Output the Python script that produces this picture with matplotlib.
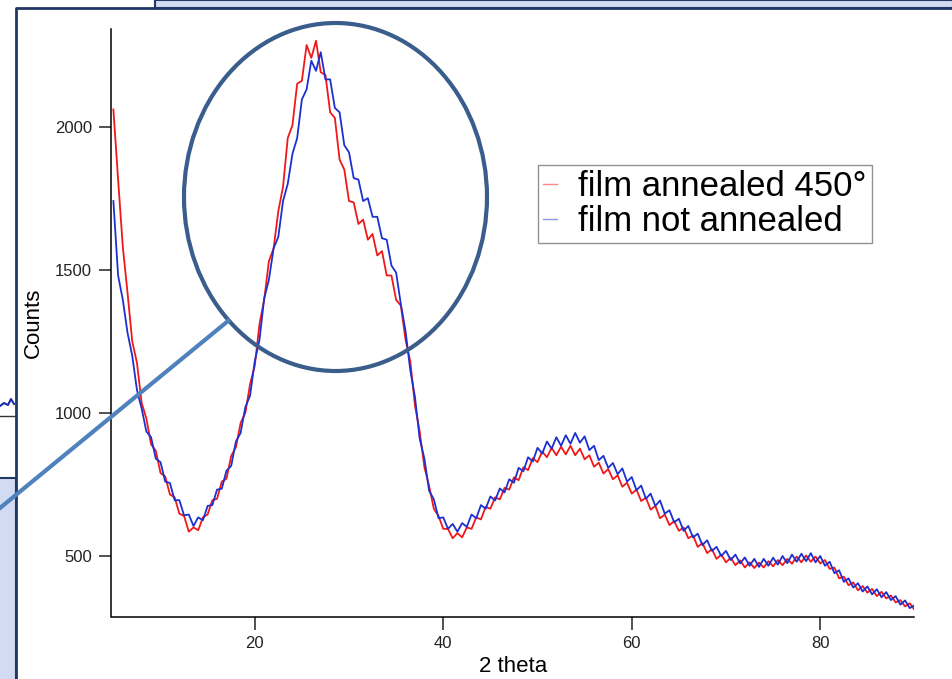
import numpy as np
import matplotlib
matplotlib.use('Agg')
import matplotlib.pyplot as plt
from matplotlib.patches import Rectangle, Ellipse
from matplotlib.lines import Line2D

plt.rcParams['font.family'] = ['Liberation Sans', 'DejaVu Sans']

# 2 theta from 5 to 90, step 0.5
two_theta = np.arange(171) * 0.5 + 5.0

annealed = [
    2060, 1815, 1580, 1420, 1250, 1175, 1035, 980, 890, 868,
    790, 778, 715, 705, 648, 640, 585, 600, 590, 635,
    645, 695, 700, 760, 770, 850, 880, 965, 1000, 1100,
    1165, 1310, 1395, 1530, 1575, 1705, 1790, 1960, 2005, 2150,
    2160, 2285, 2240, 2300, 2190, 2180, 2050, 2030, 1885, 1850,
    1740, 1735, 1660, 1675, 1605, 1625, 1550, 1565, 1480, 1480,
    1395, 1375, 1255, 1180, 1025, 935, 810, 745, 665, 640,
    595, 595, 562, 580, 565, 600, 595, 635, 628, 672,
    665, 705, 698, 738, 732, 775, 765, 810, 800, 842,
    828, 865, 845, 878, 852, 882, 855, 885, 852, 875,
    838, 852, 812, 826, 788, 804, 768, 782, 742, 756,
    718, 732, 692, 704, 662, 675, 632, 645, 608, 622,
    588, 600, 562, 572, 532, 545, 510, 524, 490, 505,
    478, 494, 468, 485, 460, 478, 458, 477, 460, 482,
    464, 486, 468, 490, 473, 498, 478, 502, 480, 498,
    474, 486, 455, 460, 422, 428, 398, 408, 380, 395,
    372, 385, 360, 375, 352, 362, 338, 346, 324, 335,
    312,
]

not_annealed = [
    1740, 1480, 1395, 1280, 1200, 1080, 1015, 935, 915, 840,
    828, 760, 755, 695, 695, 642, 645, 605, 635, 625,
    675, 678, 732, 735, 798, 815, 900, 930, 1020, 1060,
    1180, 1255, 1400, 1465, 1575, 1615, 1740, 1800, 1905, 1960,
    2095, 2130, 2230, 2195, 2260, 2165, 2165, 2065, 2050, 1935,
    1910, 1820, 1815, 1740, 1750, 1685, 1685, 1610, 1605, 1515,
    1490, 1380, 1285, 1150, 1055, 910, 840, 728, 698, 632,
    635, 595, 612, 585, 615, 602, 645, 632, 678, 665,
    708, 694, 736, 722, 768, 756, 808, 796, 845, 830,
    878, 858, 900, 875, 915, 885, 922, 892, 930, 896,
    918, 870, 885, 835, 850, 808, 825, 786, 806, 760,
    776, 730, 746, 700, 718, 675, 694, 648, 660, 618,
    630, 588, 605, 565, 578, 538, 555, 518, 532, 500,
    518, 486, 505, 474, 495, 466, 490, 462, 490, 466,
    494, 470, 500, 475, 505, 480, 508, 482, 510, 478,
    500, 466, 480, 440, 450, 410, 422, 390, 405, 376,
    394, 366, 384, 356, 374, 346, 360, 330, 345, 318,
    328,
]

labels = ['film annealed 450°', 'film not annealed']
xticks = [20, 40, 60, 80]
yticks = [500, 1000, 1500, 2000]

W, H = 953, 679
fig = plt.figure(figsize=(W/100, H/100), dpi=100)
fig.patch.set_facecolor('white')

def px(x, y):
    return x / W, 1 - y / H

lav = '#d3dbf3'
navy = '#1f3864'
# slide background pieces around the chart panel
fig.add_artist(Rectangle(px(155, 8), (W - 155)/W, 8/H, facecolor=lav, edgecolor=navy, lw=1.5))
fig.add_artist(Rectangle(px(-2, 690), 18/W, (690 - 478)/H, facecolor=lav, edgecolor=navy, lw=1.5))
fig.add_artist(Line2D([0, 16/W], [1 - 416/H, 1 - 416/H], color='#333333', lw=1))
fig.add_artist(Line2D([0, 4/W, 8/W, 11/W, 14/W], [1 - 406/H, 1 - 403/H, 1 - 405/H, 1 - 399/H, 1 - 404/H],
                      color='#1a2fb0', lw=1.5))
fig.add_artist(Line2D([16/W, 16/W, 1.0], [0, 1 - 8/H, 1 - 8/H], color=navy, lw=2))

ax = fig.add_axes([111.5/W, 1 - 617/H, (914.5 - 111.5)/W, (617 - 29)/H])
ax.plot(two_theta, annealed, color='#f01818', lw=1.3, label=labels[0])
ax.plot(two_theta, not_annealed, color='#1c30d0', lw=1.3, label=labels[1])

ax.set_xlim(4.8, 90)
ax.set_ylim(287, 2341)
ax.set_xticks(xticks)
ax.set_yticks(yticks)
for s in ['top', 'right']:
    ax.spines[s].set_visible(False)
for s in ['left', 'bottom']:
    ax.spines[s].set_linewidth(1.1)
ax.tick_params(direction='out', length=9, width=1.1, labelsize=12, pad=5, colors='#222222')
ax.set_xlabel('2 theta', fontsize=16, labelpad=3)
ax.set_ylabel('Counts', fontsize=16, labelpad=8)

leg = ax.legend(loc='upper left', bbox_to_anchor=px(538, 165), bbox_transform=fig.transFigure,
                fontsize=25, frameon=True, fancybox=False, borderaxespad=0,
                handlelength=0.4, handletextpad=0.6, borderpad=0.15, labelspacing=0.05)
leg.get_frame().set_edgecolor('#777777')
leg.get_frame().set_linewidth(1)
for h in leg.get_lines():
    h.set_linewidth(1)
    h.set_alpha(0.5)

# highlight circle and connector
fig.add_artist(Ellipse(px(335.5, 197), 303/W, 348/H, fill=False, edgecolor='#3a5d8c', lw=3, zorder=10))
fig.add_artist(Line2D([0, 228/W], [1 - 508/H, 1 - 321/H], color='#4f81bd', lw=3, zorder=10))

fig.savefig('out.png', dpi=100)
